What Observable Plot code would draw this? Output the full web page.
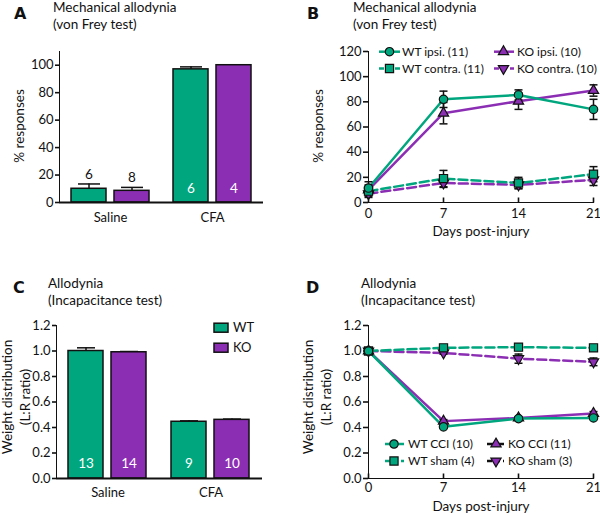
<!DOCTYPE html>
<html><head><meta charset="utf-8">
<script src="https://cdn.jsdelivr.net/npm/d3@7"></script>
<script src="https://cdn.jsdelivr.net/npm/@observablehq/plot@0.6"></script>
<style>
html,body{margin:0;padding:0;background:#fff;}
#fig{position:relative;width:600px;height:515px;font-family:Lato,sans-serif;color:#111;overflow:hidden;}
.panel{position:absolute;}
.panel svg{background:transparent;overflow:visible;}
.panel svg [aria-label*="axis"] path,.panel svg [aria-label*="axis"] line{stroke-width:1.6px;}
#overlay{position:absolute;left:0;top:0;pointer-events:none;}
</style></head><body><div id="fig"></div>
<script>
// ---------- data ----------
const treatments = ["Saline", "CFA"];
const genotypes = ["WT", "KO"];
// Panel A: % responses (order: Saline WT, Saline KO, CFA WT, CFA KO)
const respMean = [10, 8.5, 97, 100];
const respSem = [3.5, 2.5, 1.8, 0];
const respN = [6, 8, 6, 4];
// Panel C: weight distribution ratio
const ratioMean = [1.0, 0.99, 0.445, 0.46];
const ratioSem = [0.025, 0.006, 0.007, 0.006];
const ratioN = [13, 14, 9, 10];

const days = [0, 7, 14, 21];
// Panel B
const bSeries = ["WT ipsi.", "WT contra.", "KO ipsi.", "KO contra."];
const bN = [11, 11, 10, 10];
const wtIpsi = [11.5, 82, 85.5, 74];
const wtIpsiErr = [5, 6.5, 4, 8];
const wtContra = [9, 19, 15.5, 22.5];
const wtContraErr = [4, 6.5, 4.5, 6];
const koIpsi = [10, 71, 80.5, 89];
const koIpsiErr = [4, 8.5, 6.5, 4.5];
const koContra = [7, 15.5, 14, 18];
const koContraErr = [3, 3.5, 3, 4.5];
// Panel D
const dSeries = ["WT CCI", "WT sham", "KO CCI", "KO sham"];
const dN = [10, 4, 11, 3];
const wtCci = [1.0, 0.405, 0.47, 0.475];
const wtCciErr = [0.006, 0.012, 0.01, 0.012];
const wtSham = [1.0, 1.025, 1.03, 1.025];
const wtShamErr = [0.006, 0.01, 0.01, 0.01];
const koCci = [1.0, 0.45, 0.475, 0.51];
const koCciErr = [0.006, 0.012, 0.01, 0.015];
const koSham = [1.0, 0.985, 0.94, 0.915];
const koShamErr = [0.006, 0.01, 0.036, 0.03];

// ---------- styles ----------
const green = "#00a67e", purple = "#8c2eb4", ink = "#111";
const font = "Lato, sans-serif";
const sqrt3 = Math.sqrt(3);
const triDown = {draw(ctx, size) { const y = Math.sqrt(size / (sqrt3 * 3)); ctx.moveTo(0, 2 * y); ctx.lineTo(-sqrt3 * y, -y); ctx.lineTo(sqrt3 * y, -y); ctx.closePath(); }};
const capLine = {draw(ctx, size) { const w = Math.sqrt(size / Math.PI); ctx.moveTo(-w, 0); ctx.lineTo(w, 0); }};
const tickUp = {draw(ctx, size) { const h = Math.sqrt(size / Math.PI); ctx.moveTo(0, 0); ctx.lineTo(0, -h); }};
const sty = [
  {color: green, dash: undefined, symbol: "circle", r: 4.2},
  {color: green, dash: "9,4", symbol: "square", r: 4.6},
  {color: purple, dash: undefined, symbol: "triangle", r: 3.8},
  {color: purple, dash: "9,4", symbol: triDown, r: 3.8}
];

const fig = document.getElementById("fig");
function place(node, left, top) {
  const d = document.createElement("div");
  d.className = "panel"; d.style.left = left + "px"; d.style.top = top + "px";
  d.appendChild(node); fig.appendChild(d);
}

function barRows(means, sems, ns, insideMin) {
  return treatments.flatMap((t, i) => genotypes.map((g, j) => {
    const k = i * 2 + j;
    return {treatment: t, genotype: g, mean: means[k], hi: means[k] + sems[k], n: ns[k], inside: means[k] > insideMin};
  }));
}

function barPanel(rows, o) {
  return Plot.plot({
    width: o.width, height: o.height,
    marginTop: o.mt, marginBottom: o.mb, marginLeft: o.ml, marginRight: o.mr,
    style: {fontFamily: font, fontSize: "13px", color: ink, background: "transparent", overflow: "visible"},
    facet: {data: rows, x: "treatment"},
    fx: {domain: treatments, padding: 0, axis: "bottom", label: null, tickSize: 0, tickPadding: o.fxPad},
    x: {domain: genotypes, axis: null, paddingInner: 0.18, paddingOuter: 0.27},
    y: {domain: o.yDomain, ticks: o.yTicks, tickFormat: o.yFormat, line: true, tickSize: 4, tickPadding: 2, label: null},
    color: {domain: genotypes, range: [green, purple]},
    marks: [
      Plot.ruleX(rows, {x: "genotype", y1: "mean", y2: "hi", stroke: ink, strokeWidth: 1.5}),
      Plot.dot(rows, {x: "genotype", y: "hi", symbol: capLine, r: o.cap, stroke: ink, strokeWidth: 1.5, fill: "none"}),
      Plot.barY(rows, {x: "genotype", y: "mean", fill: "genotype", stroke: ink, strokeWidth: 1.5}),
      Plot.ruleY([0], {stroke: ink, strokeWidth: 1.8}),
      Plot.text(rows, {filter: d => d.inside, x: "genotype", y: d => 0, text: d => String(d.n), dy: o.insideDy, fill: "white", fontSize: 13.5}),
      Plot.text(rows, {filter: d => !d.inside, x: "genotype", y: "hi", text: d => String(d.n), dy: -9.5, fill: ink, fontSize: 13.5})
    ]
  });
}

function linePanel(means, errs, o) {
  const rows = means.map((m, i) => days.map((d, j) => ({day: d, mean: m[j], lo: m[j] - errs[i][j], hi: m[j] + errs[i][j]})));
  const order = [3, 2, 1, 0];
  const marks = [];
  for (const i of order) marks.push(Plot.line(rows[i], {x: "day", y: "mean", stroke: sty[i].color, strokeWidth: 2.5, strokeDasharray: sty[i].dash}));
  for (const i of order) {
    marks.push(Plot.ruleX(rows[i], {x: "day", y1: "lo", y2: "hi", stroke: ink, strokeWidth: 1.5}));
    marks.push(Plot.dot(rows[i], {x: "day", y: "hi", symbol: capLine, r: 4, stroke: ink, strokeWidth: 1.5, fill: "none"}));
    marks.push(Plot.dot(rows[i], {x: "day", y: "lo", symbol: capLine, r: 4, stroke: ink, strokeWidth: 1.5, fill: "none"}));
  }
  for (const i of order) marks.push(Plot.dot(rows[i], {x: "day", y: "mean", symbol: sty[i].symbol, r: sty[i].r, fill: sty[i].color, stroke: ink, strokeWidth: 1.2}));
  marks.push(Plot.dot(days, {x: d => d, y: d => 0, symbol: tickUp, r: 5, stroke: ink, strokeWidth: 1.6, fill: "none"}));
  return Plot.plot({
    width: o.width, height: o.height,
    marginTop: o.mt, marginBottom: o.mb, marginLeft: o.ml, marginRight: o.mr,
    style: {fontFamily: font, fontSize: "13px", color: ink, background: "transparent", overflow: "visible"},
    x: {domain: [0, 21], ticks: days, tickSize: 0, tickPadding: o.xPad, line: true, label: null},
    y: {domain: o.yDomain, ticks: o.yTicks, tickFormat: o.yFormat, line: true, tickSize: 5, tickPadding: 2, label: null},
    marks
  });
}

const f1 = d3.format(".1f");
place(barPanel(barRows(respMean, respSem, respN, 30), {
  width: 300, height: 200, mt: 11, mb: 38, ml: 59, mr: 37,
  yDomain: [0, 110], yTicks: [0, 20, 40, 60, 80, 100], yFormat: d3.format("d"),
  fxPad: 10, insideDy: -14, cap: 11
}), 0, 40);
place(linePanel([wtIpsi, wtContra, koIpsi, koContra], [wtIpsiErr, wtContraErr, koIpsiErr, koContraErr], {
  width: 300, height: 205, mt: 11, mb: 43, ml: 68, mr: 7,
  yDomain: [0, 120], yTicks: [0, 20, 40, 60, 80, 100, 120], yFormat: d3.format("d"), xPad: 6
}), 300, 40);
place(barPanel(barRows(ratioMean, ratioSem, ratioN, 0.3), {
  width: 300, height: 215, mt: 25, mb: 37, ml: 55, mr: 38,
  yDomain: [0, 1.2], yTicks: [0, 0.2, 0.4, 0.6, 0.8, 1.0, 1.2], yFormat: f1,
  fxPad: 9, insideDy: -14.5, cap: 9
}), 0, 300);
place(linePanel([wtCci, wtSham, koCci, koSham], [wtCciErr, wtShamErr, koCciErr, koShamErr], {
  width: 300, height: 215, mt: 25, mb: 37, ml: 68, mr: 7,
  yDomain: [0, 1.2], yTicks: [0, 0.2, 0.4, 0.6, 0.8, 1.0, 1.2], yFormat: f1, xPad: 4
}), 300, 300);

// ---------- overlay: titles, axis titles, legends ----------
const ov = d3.select(fig).append("svg").attr("id", "overlay").attr("width", 600).attr("height", 515);
function txt(x, y, s, o = {}) {
  return ov.append("text").attr("x", x).attr("y", y).text(s)
    .attr("font-family", o.family || font).attr("font-size", o.size || 13.5)
    .attr("font-weight", o.weight || 400).attr("text-anchor", o.anchor || "start")
    .attr("fill", ink).attr("transform", o.transform || null);
}
const bold = {family: "DejaVu Sans, sans-serif", size: 16, weight: 700};
txt(14, 18.5, "A", bold); txt(53, 11.5, "Mechanical allodynia"); txt(53, 28.5, "(von Frey test)");
txt(307, 18.5, "B", bold); txt(353, 11.5, "Mechanical allodynia"); txt(353, 28.5, "(von Frey test)");
txt(13, 293, "C", bold); txt(48, 288, "Allodynia"); txt(48, 305, "(Incapacitance test)");
txt(306, 293, "D", bold); txt(361, 288, "Allodynia"); txt(361, 305, "(Incapacitance test)");

txt(0, 0, "% responses", {anchor: "middle", transform: "translate(24,126) rotate(-90)"});
txt(0, 0, "% responses", {anchor: "middle", transform: "translate(323,126) rotate(-90)"});
txt(0, 0, "Weight distribution", {anchor: "middle", transform: "translate(11.5,397) rotate(-90)"});
txt(0, 0, "(L:R ratio)", {anchor: "middle", transform: "translate(29.5,397) rotate(-90)"});
txt(0, 0, "Weight distribution", {anchor: "middle", transform: "translate(312.5,397) rotate(-90)"});
txt(0, 0, "(L:R ratio)", {anchor: "middle", transform: "translate(330.5,397) rotate(-90)"});
txt(481, 236, "Days post-injury", {anchor: "middle"});
txt(481, 511, "Days post-injury", {anchor: "middle"});

// Legend C
genotypes.forEach((g, i) => {
  const cy = 327.7 + i * 20;
  ov.append("rect").attr("x", 214).attr("y", cy - 4.5).attr("width", 14).attr("height", 9)
    .attr("fill", i ? purple : green).attr("stroke", ink).attr("stroke-width", 1.5);
  txt(233, cy + 4.5, g, {size: 13});
});

function symPath(s) {
  const type = s.symbol === "circle" ? d3.symbolCircle : s.symbol === "square" ? d3.symbolSquare : s.symbol === "triangle" ? d3.symbolTriangle : s.symbol;
  return d3.symbol(type, Math.PI * s.r * s.r)();
}
function legend(names, ns, cols, rowsY, lineColors) {
  names.forEach((name, i) => {
    const c = cols[Math.floor(i / 2)], y = rowsY[i % 2], s = sty[i];
    ov.append("line").attr("x1", c.x0).attr("x2", c.x1).attr("y1", y).attr("y2", y)
      .attr("stroke", lineColors ? lineColors[i] : s.color).attr("stroke-width", 2.5)
      .attr("stroke-dasharray", s.dash ? "5,3" : null);
    ov.append("path").attr("d", symPath(s)).attr("transform", `translate(${c.m},${y})`)
      .attr("fill", s.color).attr("stroke", ink).attr("stroke-width", 1.2);
    txt(c.t, y + 4.3, `${name} (${ns[i]})`, {size: 12});
  });
}
legend(bSeries, bN, [{x0: 379, x1: 400, m: 389.5, t: 402}, {x0: 494, x1: 514, m: 503.5, t: 517}], [51.7, 68.5]);
legend(dSeries, dN, [{x0: 385, x1: 404, m: 394, t: 408}, {x0: 487, x1: 504, m: 496, t: 508}], [444, 461], [green, green, ink, ink]);
</script></body></html>
